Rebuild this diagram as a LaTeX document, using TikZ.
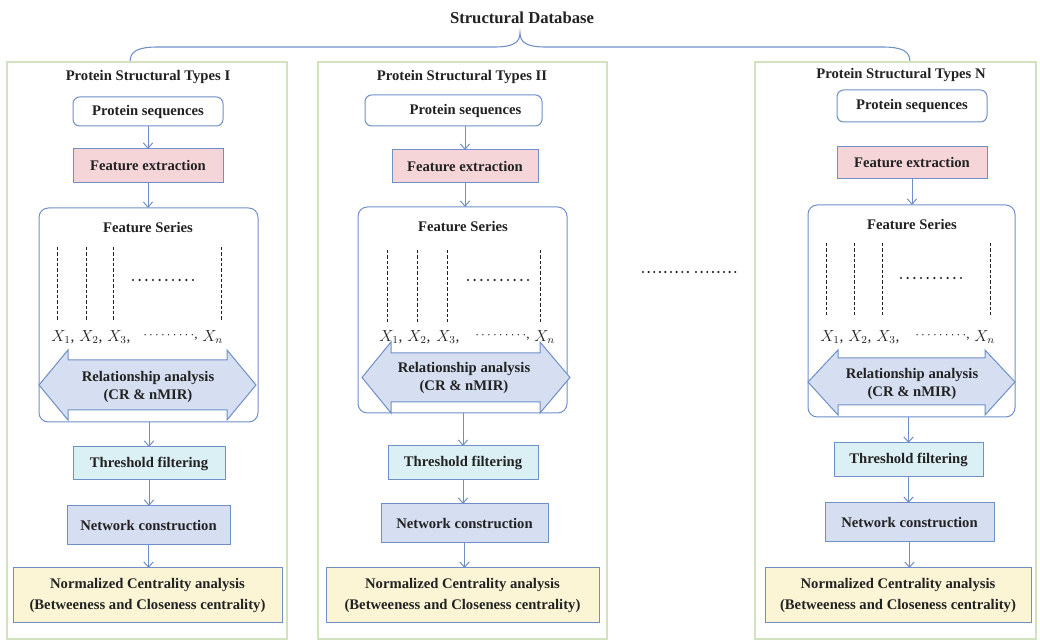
\documentclass[tikz,border=0pt]{standalone}
\usepackage{fontspec}
\setmainfont{Liberation Serif}
\usetikzlibrary{arrows.meta}
\definecolor{bl}{HTML}{6F8FC8}
\definecolor{grn}{HTML}{D2E2BE}
\definecolor{txt}{HTML}{222222}
\definecolor{pinkf}{HTML}{F6D5D9}
\definecolor{cyanf}{HTML}{DBF0F5}
\definecolor{lavf}{HTML}{D6DEF2}
\definecolor{yelf}{HTML}{FBF5D6}
\definecolor{arrf}{HTML}{D5DFF1}
\newcommand\bx[7]{\node[#6, minimum width={(#4-#2)*0.75pt}, minimum height={(#5-#3)*0.75pt}] (#1) at ({(#2+#4)/2},{(#3+#5)/2}) {#7};}
\tikzset{
  base/.style={draw=bl, line width=0.75pt, inner sep=0pt, outer sep=0pt,
    font=\fontsize{11}{13.5}\selectfont\bfseries, text=txt, align=center},
  rbox/.style={base, rounded corners=5pt, fill=white},
  fsbox/.style={base, rounded corners=7pt, fill=white},
  pinkbox/.style={base, fill=pinkf},
  cyanbox/.style={base, fill=cyanf},
  lavbox/.style={base, fill=lavf},
  yelbox/.style={base, fill=yelf, font=\fontsize{11}{15.5}\selectfont\bfseries},
  panel/.style={draw=grn, line width=0.8pt, fill=white, inner sep=0pt, outer sep=0pt},
  ttl/.style={font=\fontsize{11}{13}\selectfont\bfseries, text=txt, inner sep=0pt},
  fstitle/.style={font=\fontsize{11}{13}\selectfont\bfseries, text=txt, inner sep=0pt},
  xlab/.style={font=\fontsize{11.5}{13}\selectfont, text=txt, inner sep=0pt, anchor=west},
  xdots/.style={font=\fontsize{10}{12}\selectfont, text=txt, inner sep=0pt, anchor=east},
  arr/.style={draw=bl, line width=0.75pt, -{Straight Barb[length=4pt,width=7pt]}},
  dsh/.style={draw=txt, line width=0.65pt, dash pattern=on 2.4pt off 1.6pt},
  dotrow/.style={draw=txt, line width=1.8pt, line cap=round, dash pattern=on 0pt off 5pt},
  dbl/.style={draw=bl, line width=0.75pt, fill=arrf, line join=miter},
  reltext/.style={font=\fontsize{11}{13.5}\selectfont\bfseries, text=txt, align=center, inner sep=0pt},
}
\begin{document}
\begin{tikzpicture}[x=0.75pt,y=-0.75pt]
\useasboundingbox[fill=white] (0,0) rectangle (1040,641);
% title and brace
\node[font=\fontsize{12.5}{14}\selectfont\bfseries, text=txt, inner sep=0pt] (db) at (522,18) {Structural Database};
\draw[draw=bl, line width=0.8pt] (130,62) .. controls (130,51) and (138,47) .. (158,47) -- (495,47)
  .. controls (512,47) and (520,43) .. (520,33) .. controls (520,43) and (528,47) .. (545,47)
  -- (882,47) .. controls (902,47) and (910,51) .. (910,62);
% ================= Panel I =================
\bx{p1}{7}{62}{287}{639}{panel}{}
\node[ttl] (t1) at (148,77) {Protein Structural Types I};
\bx{ps1}{73}{97}{223}{126}{rbox}{Protein sequences}
\bx{fe1}{73}{149}{223}{183}{pinkbox}{Feature extraction}
\bx{fs1}{39}{208}{258}{422}{fsbox}{}
\node[fstitle] (fst1) at (148,228) {Feature Series};
\draw[dsh] (57,247) -- (57,320);
\draw[dsh] (86,247) -- (86,320);
\draw[dsh] (113,247) -- (113,320);
\draw[dsh] (221,247) -- (221,320);
\draw[dotrow] (133,280) -- (194,280);
\node[xlab] (x11) at (51,337) {$X_1$,};
\node[xlab] (x12) at (79,337) {$X_2$,};
\node[xlab] (x13) at (107,337) {$X_3$,};
\node[xdots] (x1d) at (198,337) {$\cdots\cdots\cdots$,};
\node[xlab] (x1n) at (202,337) {$X_n$};
\draw[dbl] (39,385) -- (68,350) -- (68,360) -- (227,360) -- (227,350) -- (256,385)
  -- (227,420) -- (227,410) -- (68,410) -- (68,420) -- cycle;
\node[reltext] (ra1) at (148,387) {Relationship analysis\\(CR \& nMIR)};
\bx{tf1}{73}{447}{225}{480}{cyanbox}{Threshold filtering}
\bx{nc1}{67}{506}{230}{545}{lavbox}{Network construction}
\bx{nz1}{13}{568}{282}{623}{yelbox}{Normalized Centrality analysis\\(Betweeness and Closeness centrality)}
\draw[arr] (ps1.south) -- (ps1.south |- fe1.north);
\draw[arr] (fe1.south) -- (fe1.south |- fs1.north);
\draw[arr] (tf1.north |- fs1.south) -- (tf1.north);
\draw[arr] (tf1.south) -- (tf1.south |- nc1.north);
\draw[arr] (nc1.south) -- (nc1.south |- nz1.north);
% ================= Panel II =================
\bx{p2}{318}{62}{607}{639}{panel}{}
\node[ttl] (t2) at (462,77) {Protein Structural Types II};
\bx{ps2}{365}{95}{542}{126}{rbox}{\hspace*{18pt}Protein sequences}
\bx{fe2}{392}{150}{538}{183}{pinkbox}{Feature extraction}
\bx{fs2}{358}{207}{567}{413}{fsbox}{}
\node[fstitle] (fst2) at (463,227) {Feature Series};
\draw[dsh] (387,250) -- (387,322);
\draw[dsh] (417,250) -- (417,322);
\draw[dsh] (447,250) -- (447,322);
\draw[dsh] (540,250) -- (540,322);
\draw[dotrow] (468,280) -- (530,280);
\node[xlab] (x21) at (379,337) {$X_1$,};
\node[xlab] (x22) at (407,337) {$X_2$,};
\node[xlab] (x23) at (436,337) {$X_3$,};
\node[xdots] (x2d) at (530,337) {$\cdots\cdots\cdots$,};
\node[xlab] (x2n) at (534,337) {$X_n$};
\draw[dbl] (362,377.5) -- (391,342) -- (391,353) -- (540,353) -- (540,342) -- (570,377.5)
  -- (540,413) -- (540,402) -- (391,402) -- (391,413) -- cycle;
\node[reltext] (ra2) at (464,378) {Relationship analysis\\(CR \& nMIR)};
\bx{tf2}{388}{446}{538}{480}{cyanbox}{Threshold filtering}
\bx{nc2}{381}{504}{548}{543}{lavbox}{Network construction}
\bx{nz2}{326}{568}{599}{623}{yelbox}{Normalized Centrality analysis\\(Betweeness and Closeness centrality)}
\draw[arr] (fe2.north |- ps2.south) -- (fe2.north);
\draw[arr] (fe2.south) -- (fe2.south |- fs2.north);
\draw[arr] (tf2.north |- fs2.south) -- (tf2.north);
\draw[arr] (tf2.south) -- (tf2.south |- nc2.north);
\draw[arr] (nc2.south) -- (nc2.south |- nz2.north);
% middle dots
\draw[dotrow, dash pattern=on 0pt off 4.2pt] (643,272) -- (688,272);
\draw[dotrow, dash pattern=on 0pt off 4.2pt] (696,272) -- (736,272);
% ================= Panel N =================
\bx{p3}{755}{62}{1036}{639}{panel}{}
\node[ttl] (t3) at (901,75) {Protein Structural Types N};
\bx{ps3}{837}{90}{987}{122}{rbox}{Protein sequences}
\bx{fe3}{837}{147}{987}{179}{pinkbox}{Feature extraction}
\bx{fs3}{808}{205}{1015}{417}{fsbox}{}
\node[fstitle] (fst3) at (912,225) {Feature Series};
\draw[dsh] (826,243) -- (826,315);
\draw[dsh] (854,243) -- (854,315);
\draw[dsh] (882,243) -- (882,315);
\draw[dsh] (990,243) -- (990,315);
\draw[dotrow] (901,278) -- (962,278);
\node[xlab] (x31) at (820,337) {$X_1$,};
\node[xlab] (x32) at (848,337) {$X_2$,};
\node[xlab] (x33) at (876,337) {$X_3$,};
\node[xdots] (x3d) at (970,337) {$\cdots\cdots\cdots$,};
\node[xlab] (x3n) at (974,337) {$X_n$};
\draw[dbl] (808,382) -- (838,350) -- (838,358) -- (985,358) -- (985,350) -- (1015,382)
  -- (985,415) -- (985,405) -- (838,405) -- (838,415) -- cycle;
\node[reltext] (ra3) at (912,384) {Relationship analysis\\(CR \& nMIR)};
\bx{tf3}{834}{443}{983}{477}{cyanbox}{Threshold filtering}
\bx{nc3}{825}{503}{994}{542}{lavbox}{Network construction}
\bx{nz3}{765}{568}{1031}{623}{yelbox}{Normalized Centrality analysis\\(Betweeness and Closeness centrality)}
\draw[arr] (fe3.south) -- (fe3.south |- fs3.north);
\draw[arr] (tf3.north |- fs3.south) -- (tf3.north);
\draw[arr] (tf3.south) -- (tf3.south |- nc3.north);
\draw[arr] (nc3.south) -- (nc3.south |- nz3.north);
\end{tikzpicture}
\end{document}
